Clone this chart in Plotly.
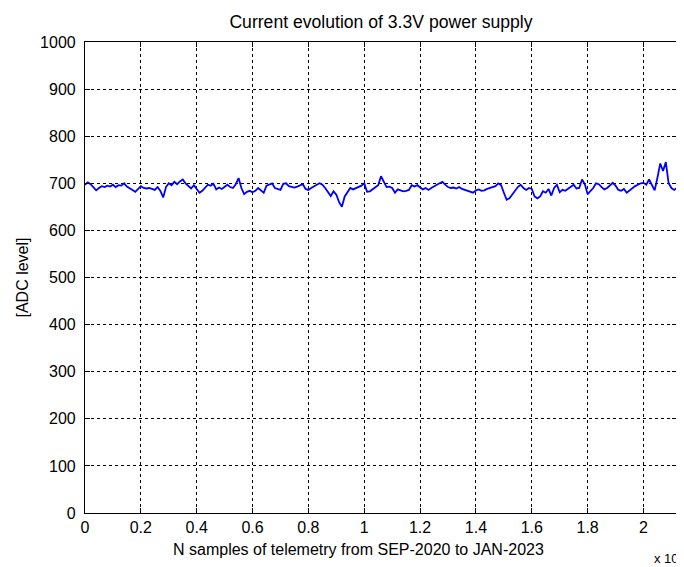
import plotly.graph_objects as go

# Sample index step between read-off points
step = 100
adc_values = [
    697, 702, 698, 692, 685, 690, 694, 692, 695, 693,
    697, 692, 696, 695, 700, 693, 690, 686, 682, 689,
    694, 690, 689, 690, 688, 686, 692, 684, 670, 692,
    700, 696, 703, 698, 704, 708, 700, 694, 689, 696,
    688, 680, 684, 690, 697, 695, 699, 687, 691, 688,
    693, 697, 692, 690, 698, 711, 690, 677, 682, 684,
    681, 684, 690, 685, 680, 695, 697, 700, 690, 688,
    686, 699, 700, 694, 692, 691, 693, 696, 698, 688,
    686, 690, 694, 697, 700, 697, 690, 680, 673, 683,
    676, 660, 650, 672, 682, 690, 687, 690, 692, 695,
    700, 682, 683, 688, 692, 696, 715, 705, 692, 693,
    690, 680, 687, 685, 683, 684, 686, 696, 693, 696,
    692, 687, 690, 686, 690, 694, 697, 700, 703, 697,
    692, 690, 691, 689, 692, 688, 686, 683, 681, 680,
    685, 687, 684, 685, 688, 690, 692, 694, 700, 696,
    680, 665, 668, 676, 684, 692, 697, 690, 686, 690,
    688, 672, 668, 672, 683, 680, 688, 674, 690, 697,
    681, 686, 684, 688, 692, 697, 689, 690, 708, 698,
    677, 684, 690, 700, 698, 692, 687, 690, 696, 701,
    695, 686, 684, 688, 680, 685, 690, 694, 697, 700,
    701, 697, 708, 698, 685, 712, 742, 726, 745, 700,
    690, 686, 690,
]
samples = [i * step for i in range(len(adc_values))]

x_tick_vals = [0, 2000, 4000, 6000, 8000, 10000, 12000, 14000, 16000, 18000, 20000]
x_tick_text = ["0", "0.2", "0.4", "0.6", "0.8", "1", "1.2", "1.4", "1.6", "1.8", "2"]
y_tick_vals = [0, 100, 200, 300, 400, 500, 600, 700, 800, 900, 1000]

font_family = "Liberation Sans, Arial, sans-serif"

# The page body adds an 8 px offset, so the figure is 8 px smaller than the window
W, H = 676, 559
L, R, T, B = 77, 669, 34, 505

fig = go.Figure()
fig.add_trace(go.Scatter(
    x=samples, y=adc_values, mode="lines",
    line=dict(color="#0000ff", width=1.8),
    showlegend=False,
))

axis_common = dict(
    showline=True, linecolor="black", linewidth=1.2, mirror="ticks",
    ticks="inside", ticklen=5, tickcolor="black", tickwidth=1,
    showgrid=True, gridcolor="black", gridwidth=1, griddash="dot",
    zeroline=False, automargin=False,
    tickfont=dict(family=font_family, size=16, color="black"),
)

fig.update_layout(
    width=W, height=H,
    margin=dict(l=L, r=W - R, t=T, b=H - B, autoexpand=False),
    paper_bgcolor="white", plot_bgcolor="white",
    font=dict(family=font_family, size=16, color="black"),
    title=dict(text="Current evolution of 3.3V power supply",
               x=(L + R) / 2 / W, xanchor="center", y=1 - 14 / H, yanchor="middle",
               font=dict(family=font_family, size=17.6, color="black")),
    xaxis=dict(range=[0, samples[-1]], tickvals=x_tick_vals, ticktext=x_tick_text,
               ticklabelstandoff=0, **axis_common),
    yaxis=dict(range=[0, 1000], tickvals=y_tick_vals, ticklabelstandoff=5,
               title=dict(text="[ADC level]", standoff=7,
                          font=dict(family=font_family, size=16)),
               **axis_common),
)

# x-axis label (placed slightly left of the axis centre, as in the reference)
fig.add_annotation(
    text="N samples of telemetry from SEP-2020 to JAN-2023", xref="paper", yref="paper",
    x=(350 - L) / (R - L), y=0, xanchor="center", yanchor="middle",
    yshift=-(541 - B), showarrow=False,
    font=dict(family=font_family, size=16, color="black"),
)

fig.add_annotation(
    text="x 10<sup>4</sup>", xref="paper", yref="paper",
    x=(644 - L) / (R - L), y=0, xanchor="left", yanchor="middle",
    yshift=-(550 - B), showarrow=False,
    font=dict(family=font_family, size=13, color="black"),
)

fig.write_html("out.html")
